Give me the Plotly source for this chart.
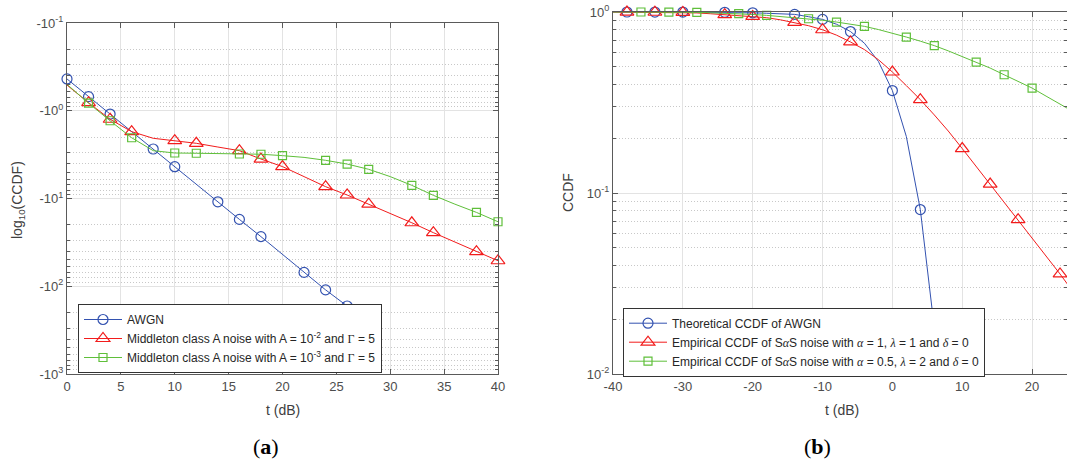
import plotly.graph_objects as go

# ---------------- data: panel (a) ----------------
t_a = [0, 2, 4, 6, 8, 10, 12, 14, 16, 18, 20, 22, 24, 26, 28, 30, 32, 34, 36, 38, 40]
awgn_a_t = [0, 2, 4, 6, 8, 10, 12, 14, 16, 18, 20, 22, 24, 26, 28]
awgn_a = [0.434, 0.69, 1.09, 1.73, 2.73, 4.34, 6.88, 10.9, 17.3, 27.2, 43.4, 69.5, 110, 168, 274]
red_a = [0.51, 0.81, 1.25, 1.73, 2.06, 2.19, 2.35, 2.59, 2.85, 3.55, 4.33, 5.63, 7.33, 9.12,
         11.6, 14.8, 18.9, 24.5, 31.3, 40.4, 51.2]
green_a = [0.50, 0.82, 1.30, 2.03, 2.85, 3.03, 3.05, 3.08, 3.11, 3.13, 3.25, 3.4, 3.67, 4.05,
           4.65, 5.63, 7.08, 9.2, 11.6, 14.4, 18.4]
awgn_a_mk = [0, 2, 4, 8, 10, 14, 16, 18, 22, 24, 26]
red_a_mk = [2, 4, 6, 10, 12, 16, 18, 20, 24, 26, 28, 32, 34, 38, 40]
green_a_mk = [2, 4, 6, 10, 12, 16, 18, 20, 24, 26, 28, 32, 34, 38, 40]

# ---------------- data: panel (b) ----------------
blue_b_t = [-40, -38, -36, -34, -32, -30, -28, -26, -24, -22, -20, -18, -16, -14, -12, -10,
            -8, -6, -4, -2, 0, 2, 4, 6, 8]
blue_b = [1.0, 0.9998, 0.9997, 0.9996, 0.9994, 0.999, 0.9984, 0.9975, 0.996, 0.9937, 0.990,
          0.984, 0.975, 0.97, 0.942, 0.91, 0.856, 0.78, 0.672, 0.533, 0.368, 0.205, 0.081,
          0.018, 0.0018]
t_b = [-40, -38, -36, -34, -32, -30, -28, -26, -24, -22, -20, -18, -16, -14, -12, -10, -8, -6,
       -4, -2, 0, 2, 4, 6, 8, 10, 12, 14, 16, 18, 20, 22, 24, 26]
red_b = [1.0, 0.999, 0.998, 0.997, 0.996, 0.994, 0.988, 0.978, 0.966, 0.957, 0.946, 0.93,
         0.905, 0.876, 0.84, 0.798, 0.745, 0.683, 0.62, 0.545, 0.466, 0.392, 0.328, 0.27,
         0.22, 0.176, 0.14, 0.112, 0.089, 0.0712, 0.056, 0.045, 0.0357, 0.028]
green_b = [1.0, 1.0, 1.0, 0.999, 0.998, 0.997, 0.995, 0.99, 0.985, 0.979, 0.969, 0.958, 0.945,
           0.932, 0.918, 0.9, 0.88, 0.857, 0.833, 0.8, 0.765, 0.727, 0.69, 0.652, 0.61, 0.568,
           0.529, 0.49, 0.45, 0.414, 0.38, 0.343, 0.31, 0.28]
blue_b_mk = [-38, -34, -30, -24, -20, -14, -10, -6, 0, 4]
red_b_mk = [-38, -34, -30, -24, -20, -14, -10, -6, 0, 4, 10, 14, 18, 24]
green_b_mk = [-36, -32, -28, -22, -18, -12, -8, -4, 2, 6, 12, 16, 20]

# tick labels
xa_ticks = [0, 5, 10, 15, 20, 25, 30, 35, 40]
xb_ticks = [-40, -30, -20, -10, 0, 10, 20]
xb_labels = ["-40", "-30", "-20", "-10", "0", "10", "20"]
ya_ticks = [0.1, 1, 10, 100, 1000]
ya_labels = ["-10<sup>-1</sup>", "-10<sup>0</sup>", "-10<sup>1</sup>", "-10<sup>2</sup>", "-10<sup>3</sup>"]
yb_ticks = [0.01, 0.1, 0.99999]
yb_labels = ["10<sup>-2</sup>", "10<sup>-1</sup>", "10<sup>0</sup>"]

BLUE = "#3352b0"
RED = "#f21c1c"
GREEN = "#5fbf3a"
SERIF = "Liberation Serif"

def g(s):
    return "<span style='font-family:%s'>%s</span>" % (SERIF, s)

def gi(s):
    return "<span style='font-family:%s'><i>%s</i></span>" % (SERIF, s)

names_a = ["AWGN",
           "Middleton class A noise with A = 10<sup>-2</sup> and " + g("Γ") + " = 5",
           "Middleton class A noise with A = 10<sup>-3</sup> and " + g("Γ") + " = 5"]
names_b = ["Theoretical CCDF of AWGN",
           "Empirical CCDF of S" + gi("α") + "S noise with " + gi("α") + " = 1, " + gi("λ") + " = 1 and " + gi("δ") + " = 0",
           "Empirical CCDF of S" + gi("α") + "S noise with " + gi("α") + " = 0.5, " + gi("λ") + " = 2 and " + gi("δ") + " = 0"]

fig = go.Figure()

def add_series(xs, ys, mk, color, symbol, size, name, xa, ya, legend):
    lookup = dict(zip(xs, ys))
    mstyle = dict(symbol=symbol, size=size, color=color, line=dict(color=color, width=1.2))
    fig.add_trace(go.Scatter(x=xs, y=ys, mode="lines", line=dict(color=color, width=1),
                             xaxis=xa, yaxis=ya, showlegend=False, hoverinfo="skip"))
    fig.add_trace(go.Scatter(x=mk, y=[lookup[t] for t in mk], mode="markers", marker=mstyle,
                             xaxis=xa, yaxis=ya, showlegend=False, cliponaxis=False))
    fig.add_trace(go.Scatter(x=[None], y=[None], mode="lines+markers", name=name,
                             line=dict(color=color, width=1), marker=mstyle,
                             xaxis=xa, yaxis=ya, legend=legend))

add_series(awgn_a_t, awgn_a, awgn_a_mk, BLUE, "circle-open", 10, names_a[0], "x", "y", "legend")
add_series(t_a, red_a, red_a_mk, RED, "triangle-up-open", 12, names_a[1], "x", "y", "legend")
add_series(t_a, green_a, green_a_mk, GREEN, "square-open", 8, names_a[2], "x", "y", "legend")

add_series(blue_b_t, blue_b, blue_b_mk, BLUE, "circle-open", 10, names_b[0], "x2", "y2", "legend2")
add_series(t_b, red_b, red_b_mk, RED, "triangle-up-open", 12, names_b[1], "x2", "y2", "legend2")
add_series(t_b, green_b, green_b_mk, GREEN, "square-open", 8, names_b[2], "x2", "y2", "legend2")

# the page's body margin is removed in the written html, so the figure fills the window
W, H = 1067, 461

def px(X):
    return X / W

def py(Y):
    return 1 - Y / H

AX = "#5a5a5a"
TICKF = dict(family="Liberation Sans", size=13, color="#4d4d4d")
common = dict(showline=True, linecolor=AX, linewidth=1, mirror="ticks", ticks="inside",
              ticklen=5, tickcolor=AX, tickfont=TICKF, showgrid=True, gridcolor="#e3e3e3",
              gridwidth=1, zeroline=False, automargin=False, ticklabeloverflow="allow")
minor_style = dict(tickmode="array", ticks="inside", ticklen=3, tickcolor=AX, showgrid=True,
                   gridcolor="#c8c8c8", griddash="1px,2px", gridwidth=1)

def minor_log(e0, e1):
    return [m * 10 ** e for e in range(e0, e1) for m in range(2, 10)]

LEGF = dict(family="Liberation Sans", size=12, color="#262626")

fig.update_layout(
    width=W, height=H, margin=dict(l=0, r=0, t=0, b=0, autoexpand=False),
    paper_bgcolor="white", plot_bgcolor="white",
    xaxis=dict(domain=[px(67), px(498)], anchor="y", range=[0, 40],
               tickmode="array", tickvals=xa_ticks, **common),
    yaxis=dict(domain=[py(374), py(23)], anchor="x", type="log", range=[3, -1],
               tickmode="array", tickvals=ya_ticks, ticktext=ya_labels,
               minor=dict(tickvals=minor_log(-1, 3), **minor_style), **common),
    xaxis2=dict(domain=[px(613), 1.0], anchor="y2", range=[-40, 25],
                tickmode="array", tickvals=xb_ticks, ticktext=xb_labels, **common),
    yaxis2=dict(domain=[py(374), py(12)], anchor="x2", type="log", range=[-2, 0],
                tickmode="array", tickvals=yb_ticks, ticktext=yb_labels,
                minor=dict(tickvals=minor_log(-2, 0), **minor_style), **common),
    legend=dict(x=px(78), y=py(304), xanchor="left", yanchor="top", bgcolor="white",
                bordercolor="#333333", borderwidth=1, itemwidth=38, font=LEGF,
                tracegroupgap=0),
    legend2=dict(x=px(623), y=py(307.7), xanchor="left", yanchor="top", bgcolor="white",
                 bordercolor="#333333", borderwidth=1, itemwidth=38, font=LEGF,
                 tracegroupgap=0),
)

TITLEF = dict(family="Liberation Sans", size=14, color="#404040")
ann = [
    dict(text="t (dB)", x=px(283), y=py(410), font=TITLEF),
    dict(text="t (dB)", x=px(842), y=py(410), font=TITLEF),
    dict(text="log<sub>10</sub>(CCDF)", x=px(18), y=py(200), textangle=-90, font=TITLEF),
    dict(text="CCDF", x=px(568), y=py(193), textangle=-90, font=TITLEF),
    dict(text="(<b>a</b>)", x=px(266), y=py(446), font=dict(family=SERIF, size=22, color="black")),
    dict(text="(<b>b</b>)", x=px(817), y=py(446), font=dict(family=SERIF, size=22, color="black")),
]
for a in ann:
    fig.add_annotation(xref="paper", yref="paper", showarrow=False, xanchor="center",
                       yanchor="middle", **a)

fig.write_html("out.html", config={"displayModeBar": False},
               post_script="document.body.style.margin='0px';document.body.style.overflow='hidden';")
